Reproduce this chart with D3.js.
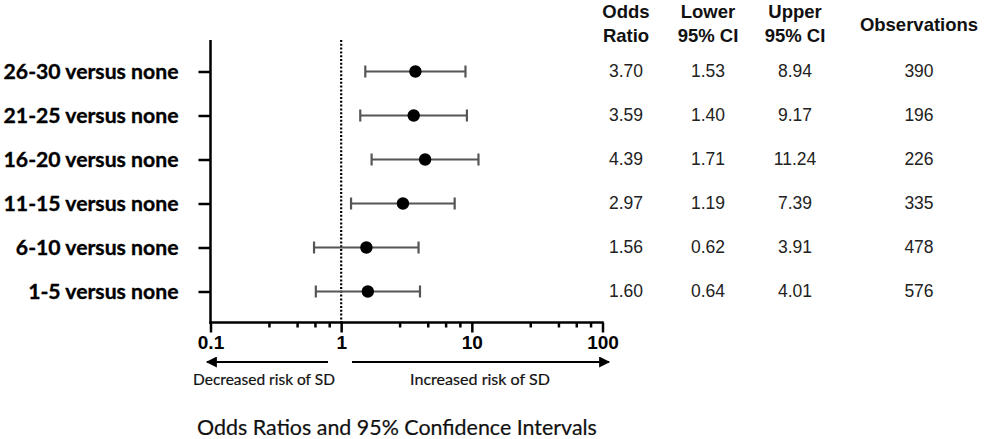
<!DOCTYPE html>
<html>
<head>
<meta charset="utf-8">
<script src="https://cdn.jsdelivr.net/npm/d3@7"></script>
<style>
  html, body { margin: 0; padding: 0; background: #fff; }
  svg { display: block; }
</style>
</head>
<body>
<svg id="chart" width="985" height="439"></svg>
<script>
// ---- data ----
const categories = ["26-30 versus none", "21-25 versus none", "16-20 versus none", "11-15 versus none", "6-10 versus none", "1-5 versus none"];
const oddsRatio = [3.70, 3.59, 4.39, 2.97, 1.56, 1.60];
const lowerCI = [1.53, 1.40, 1.71, 1.19, 0.62, 0.64];
const upperCI = [8.94, 9.17, 11.24, 7.39, 3.91, 4.01];
const observations = [390, 196, 226, 335, 478, 576];
const xTicks = [0.1, 1, 10, 100];
const xTickLabels = ["0.1", "1", "10", "100"];
const minorTickMultipliers = [2.8, 4.6, 6.3, 8.1];
const tableHeaders = [["Odds", "Ratio"], ["Lower", "95% CI"], ["Upper", "95% CI"], ["Observations"]];
const leftArrowLabel = "Decreased risk of SD";
const rightArrowLabel = "Increased risk of SD";
const xTitle = "Odds Ratios and 95% Confidence Intervals";

const svg = d3.select("#chart");

const x = d3.scaleLog().domain([0.1, 100]).range([210.5, 602.5]);
const y = d3.scalePoint().domain(categories).range([71.5, 291.5]);
const axisTop = 40, axisBottomY = 322.5;

function fitText(sel, width) {
  const node = sel.node();
  const fs = parseFloat(sel.attr("font-size"));
  const w = node.getComputedTextLength();
  sel.attr("font-size", (fs * width / w).toFixed(2));
}

// ---- axes lines ----
svg.append("line").attr("x1", 210.5).attr("x2", 210.5).attr("y1", axisTop).attr("y2", axisBottomY + 1.2)
  .attr("stroke", "#000").attr("stroke-width", 2.5);
svg.append("line").attr("x1", 209.3).attr("x2", 603.7).attr("y1", axisBottomY).attr("y2", axisBottomY)
  .attr("stroke", "#000").attr("stroke-width", 2.5);

// y axis ticks & labels
const yAxis = svg.append("g").attr("transform", "translate(210.5,0)")
  .call(d3.axisLeft(y).tickSize(12).tickPadding(20));
yAxis.select(".domain").remove();
yAxis.selectAll(".tick line").attr("stroke", "#000").attr("stroke-width", 2.5);
yAxis.selectAll(".tick text")
  .attr("font-family", "Lato, 'Open Sans', sans-serif")
  .attr("font-weight", "bold").attr("font-size", 18).attr("fill", "#000")
  .attr("stroke", "#000").attr("stroke-width", 0.35);
(function() {
  let maxW = 0;
  yAxis.selectAll(".tick text").each(function() { maxW = Math.max(maxW, this.getComputedTextLength()); });
  const fs = 18 * 175 / maxW;
  yAxis.selectAll(".tick text").attr("font-size", fs.toFixed(2));
})();

// x axis minor ticks
const minorValues = [];
[0.1, 1, 10].forEach(d => minorTickMultipliers.forEach(m => minorValues.push(d * m)));
const xMinor = svg.append("g").attr("transform", `translate(0,${axisBottomY})`)
  .call(d3.axisBottom(x).tickValues(minorValues).tickSize(5).tickFormat(""));
xMinor.select(".domain").remove();
xMinor.selectAll(".tick line").attr("stroke", "#000").attr("stroke-width", 2.5);

// x axis major ticks
const xMajor = svg.append("g").attr("transform", `translate(0,${axisBottomY})`)
  .call(d3.axisBottom(x).tickValues(xTicks).tickSize(10).tickPadding(3)
    .tickFormat((d, i) => xTickLabels[i]));
xMajor.select(".domain").remove();
xMajor.selectAll(".tick line").attr("stroke", "#000").attr("stroke-width", 2.5);
xMajor.selectAll(".tick text")
  .attr("font-family", "'Liberation Sans', Arial, sans-serif")
  .attr("font-weight", "bold").attr("font-size", 19).attr("fill", "#000");

// reference line at 1
svg.append("line").attr("x1", x(1)).attr("x2", x(1)).attr("y1", axisTop).attr("y2", axisBottomY)
  .attr("stroke", "#000").attr("stroke-width", 2.2).attr("stroke-dasharray", "2,1.8");

// ---- CI bars and points ----
const rows = categories.map((c, i) => ({c, or: oddsRatio[i], lo: lowerCI[i], hi: upperCI[i], n: observations[i]}));
const g = svg.append("g");
g.selectAll(".ci").data(rows).enter().append("line")
  .attr("x1", d => x(d.lo)).attr("x2", d => x(d.hi))
  .attr("y1", d => y(d.c)).attr("y2", d => y(d.c))
  .attr("stroke", "#555").attr("stroke-width", 2.2);
g.selectAll(".capL").data(rows).enter().append("line")
  .attr("x1", d => x(d.lo)).attr("x2", d => x(d.lo))
  .attr("y1", d => y(d.c) - 6).attr("y2", d => y(d.c) + 6)
  .attr("stroke", "#555").attr("stroke-width", 2.2);
g.selectAll(".capR").data(rows).enter().append("line")
  .attr("x1", d => x(d.hi)).attr("x2", d => x(d.hi))
  .attr("y1", d => y(d.c) - 6).attr("y2", d => y(d.c) + 6)
  .attr("stroke", "#555").attr("stroke-width", 2.2);
g.selectAll(".pt").data(rows).enter().append("circle")
  .attr("cx", d => x(d.or)).attr("cy", d => y(d.c)).attr("r", 6.2)
  .attr("fill", "#000");

// ---- arrows ----
const defs = svg.append("defs");
defs.append("marker").attr("id", "ah").attr("viewBox", "0 0 10 10").attr("refX", 9).attr("refY", 5)
  .attr("markerWidth", 6.5).attr("markerHeight", 5.5).attr("markerUnits", "strokeWidth").attr("orient", "auto")
  .append("path").attr("d", "M0,0 L10,5 L0,10 Z").attr("fill", "#000");
const arrowY = 362;
svg.append("line").attr("x1", 328).attr("x2", 207).attr("y1", arrowY).attr("y2", arrowY)
  .attr("stroke", "#000").attr("stroke-width", 2).attr("marker-end", "url(#ah)");
svg.append("line").attr("x1", 352).attr("x2", 609).attr("y1", arrowY).attr("y2", arrowY)
  .attr("stroke", "#000").attr("stroke-width", 2).attr("marker-end", "url(#ah)");

const la = svg.append("text").attr("x", 264).attr("y", 385).attr("text-anchor", "middle")
  .attr("font-family", "Lato, 'Open Sans', sans-serif").attr("font-size", 13).attr("fill", "#111")
  .attr("stroke", "#111").attr("stroke-width", 0.2)
  .text(leftArrowLabel);
fitText(la, 142);
const ra = svg.append("text").attr("x", 480).attr("y", 385).attr("text-anchor", "middle")
  .attr("font-family", "Lato, 'Open Sans', sans-serif").attr("font-size", 13).attr("fill", "#111")
  .attr("stroke", "#111").attr("stroke-width", 0.2)
  .text(rightArrowLabel);
fitText(ra, 140);

const tt = svg.append("text").attr("x", 397).attr("y", 435).attr("text-anchor", "middle")
  .attr("font-family", "Lato, 'Open Sans', sans-serif").attr("font-size", 17).attr("fill", "#111")
  .attr("stroke", "#111").attr("stroke-width", 0.2)
  .text(xTitle);
fitText(tt, 400);

// ---- table ----
const colX = [626, 708, 795, 919];
const hdr = svg.append("g").attr("font-family", "'Liberation Sans', Arial, sans-serif")
  .attr("font-weight", "bold").attr("font-size", 18.5).attr("fill", "#111").attr("text-anchor", "middle");
tableHeaders.forEach((lines, i) => {
  if (lines.length === 2) {
    hdr.append("text").attr("x", colX[i]).attr("y", 18).text(lines[0]);
    hdr.append("text").attr("x", colX[i]).attr("y", 42).text(lines[1]);
  } else {
    hdr.append("text").attr("x", colX[i]).attr("y", 31).text(lines[0]);
  }
});
const fmt2 = d3.format(".2f");
const cols = [oddsRatio.map(fmt2), lowerCI.map(fmt2), upperCI.map(fmt2), observations.map(String)];
const body = svg.append("g").attr("font-family", "'Liberation Sans', Arial, sans-serif")
  .attr("font-size", 17.5).attr("fill", "#222").attr("text-anchor", "middle");
cols.forEach((vals, ci) => {
  body.selectAll(null).data(vals).enter().append("text")
    .attr("x", colX[ci]).attr("y", (d, i) => y(categories[i]) + 5.5)
    .text(d => d);
});
</script>
</body>
</html>
